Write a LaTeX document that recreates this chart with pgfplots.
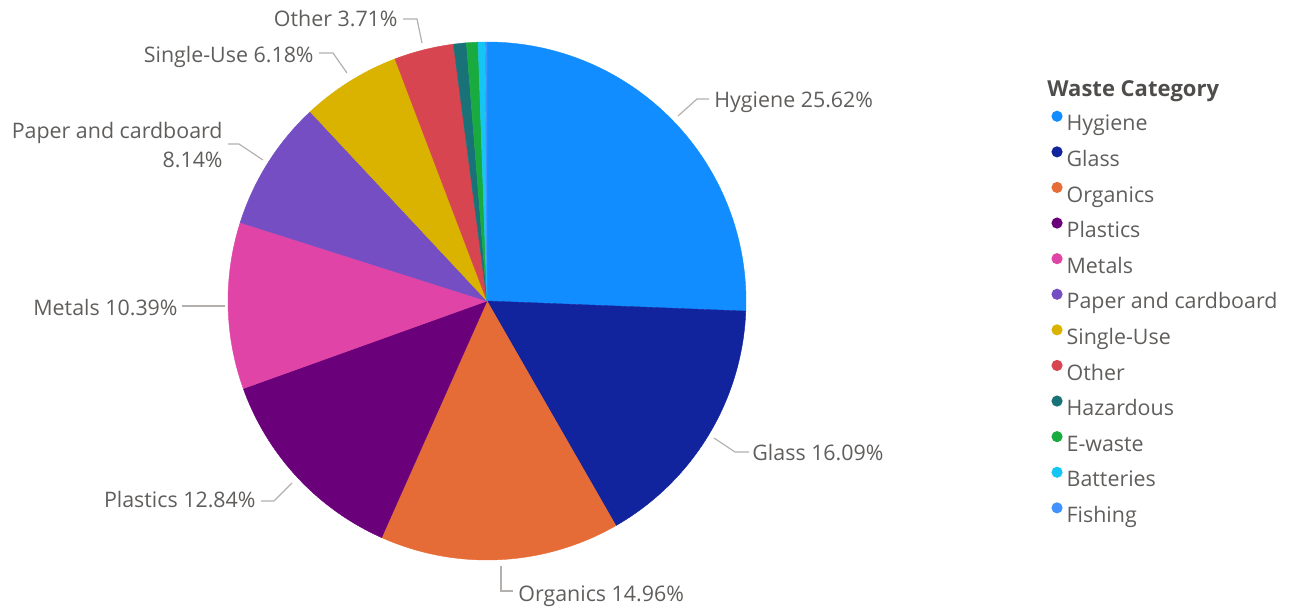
\documentclass[border=0pt]{standalone}
\usepackage{pgfplots}
\pgfplotsset{compat=1.18}
\usepackage{pgfplotstable}
\usepackage{fontspec}
\setmainfont{Open Sans}
\definecolor{cHyg}{HTML}{118DFF}
\definecolor{cGla}{HTML}{12239E}
\definecolor{cOrg}{HTML}{E66C37}
\definecolor{cPla}{HTML}{6B007B}
\definecolor{cMet}{HTML}{E044A7}
\definecolor{cPap}{HTML}{744EC2}
\definecolor{cSin}{HTML}{D9B300}
\definecolor{cOth}{HTML}{D64550}
\definecolor{cHaz}{HTML}{197278}
\definecolor{cEwa}{HTML}{1AAB40}
\definecolor{cBat}{HTML}{15C6F4}
\definecolor{cFis}{HTML}{4092FF}
\definecolor{lblgray}{HTML}{605E5C}
\definecolor{titlegray}{HTML}{4F4D4B}
\definecolor{linegray}{HTML}{B3B0AD}

\pgfplotstableread[col sep=comma]{
name,pct,col
Hygiene,25.62,cHyg
Glass,16.09,cGla
Organics,14.96,cOrg
Plastics,12.84,cPla
Metals,10.39,cMet
Paper and cardboard,8.14,cPap
Single-Use,6.18,cSin
Other,3.71,cOth
Hazardous,0.80,cHaz
E-waste,0.72,cEwa
Batteries,0.44,cBat
Fishing,0.11,cFis
}\piedata

\newcommand{\lblfont}{\fontsize{10.7pt}{12pt}\selectfont}

\begin{document}
\begin{tikzpicture}
\useasboundingbox (0,0) rectangle (648pt,306pt);
\begin{axis}[at={(0,0)}, anchor=south west,
  width=648pt, height=306pt, scale only axis,
  xmin=0, xmax=1296, ymin=0, ymax=612,
  hide axis, clip=false,
  legend image code/.code={\fill[#1, draw=none] (0pt,4.6pt) circle[radius=2.8pt]; \path[draw=none, fill=none] (-2.8pt,0pt) rectangle (4.8pt,1pt);},
  legend cell align=left,
  legend style={draw=none, fill=none, at={(0.8113,0.8192)}, anchor=north west,
    inner sep=0pt, outer sep=0pt, row sep=5.15pt, column sep=0pt,
    font=\lblfont,
    nodes={inner sep=0pt, text height=8pt, text depth=2.5pt, text=lblgray}},
]
% pie slices, clockwise from 12 o'clock
\pgfmathsetmacro\cum{0}
\pgfplotsforeachungrouped \i in {0,...,11}{%
  \pgfplotstablegetelem{\i}{pct}\of\piedata \let\sliceval\pgfplotsretval
  \pgfplotstablegetelem{\i}{col}\of\piedata \let\slicecol\pgfplotsretval
  \pgfmathsetmacro\sa{90-3.6*\cum}%
  \pgfmathsetmacro\cum{\cum+\sliceval}%
  \pgfmathsetmacro\ea{90-3.6*\cum}%
  \edef\cmd{\noexpand\fill[\slicecol, draw=\slicecol, line width=0.2pt] (axis cs:487,311) -- ++(\sa:129.5pt) arc[start angle=\sa, end angle=\ea, radius=129.5pt] -- cycle;}%
  \cmd
}

% leader lines
\addplot[linegray, line width=0.6pt, no marks, forget plot] coordinates {(678,496) (697,513) (709,513)};
\addplot[linegray, line width=0.6pt, no marks, forget plot] coordinates {(714,174) (735,160) (749,160)};
\addplot[linegray, line width=0.6pt, no marks, forget plot] coordinates {(501,46) (501,21) (513,21)};
\addplot[linegray, line width=0.6pt, no marks, forget plot] coordinates {(292,129) (274,111) (261,111)};
\addplot[linegray, line width=0.6pt, no marks, forget plot] coordinates {(225,306) (182,306)};
\addplot[linegray, line width=0.6pt, no marks, forget plot] coordinates {(263,452) (239,468) (228,468)};
\addplot[linegray, line width=0.6pt, no marks, forget plot] coordinates {(347,539) (333,559) (319,559)};
\addplot[linegray, line width=0.6pt, no marks, forget plot] coordinates {(422,569) (417,593) (403,593)};

% data labels
\node[anchor=base west, inner sep=0pt, font=\lblfont, text=lblgray] at (axis cs:714,504) {Hygiene 25.62\%};
\node[anchor=base west, inner sep=0pt, font=\lblfont, text=lblgray] at (axis cs:752,151.5) {Glass 16.09\%};
\node[anchor=base west, inner sep=0pt, font=\lblfont, text=lblgray] at (axis cs:518,11) {Organics 14.96\%};
\node[anchor=base east, inner sep=0pt, font=\lblfont, text=lblgray] at (axis cs:256,105) {Plastics 12.84\%};
\node[anchor=base east, inner sep=0pt, font=\lblfont, text=lblgray] at (axis cs:178,297) {Metals 10.39\%};
\node[anchor=base east, inner sep=0pt, font=\lblfont, text=lblgray] at (axis cs:223,473.5) {Paper and cardboard};
\node[anchor=base east, inner sep=0pt, font=\lblfont, text=lblgray] at (axis cs:223,444.5) {8.14\%};
\node[anchor=base east, inner sep=0pt, font=\lblfont, text=lblgray] at (axis cs:314,549.5) {Single-Use 6.18\%};
\node[anchor=base east, inner sep=0pt, font=\lblfont, text=lblgray] at (axis cs:398,585) {Other 3.71\%};

% legend
\node[anchor=base west, inner sep=0pt, font=\bfseries\fontsize{11pt}{13pt}\selectfont, text=titlegray] at (axis cs:1047,515) {Waste Category};
\addlegendimage{color=cHyg}\addlegendentry{Hygiene}
\addlegendimage{color=cGla}\addlegendentry{Glass}
\addlegendimage{color=cOrg}\addlegendentry{Organics}
\addlegendimage{color=cPla}\addlegendentry{Plastics}
\addlegendimage{color=cMet}\addlegendentry{Metals}
\addlegendimage{color=cPap}\addlegendentry{Paper and cardboard}
\addlegendimage{color=cSin}\addlegendentry{Single-Use}
\addlegendimage{color=cOth}\addlegendentry{Other}
\addlegendimage{color=cHaz}\addlegendentry{Hazardous}
\addlegendimage{color=cEwa}\addlegendentry{E-waste}
\addlegendimage{color=cBat}\addlegendentry{Batteries}
\addlegendimage{color=cFis}\addlegendentry{Fishing}
\end{axis}
\end{tikzpicture}
\end{document}
